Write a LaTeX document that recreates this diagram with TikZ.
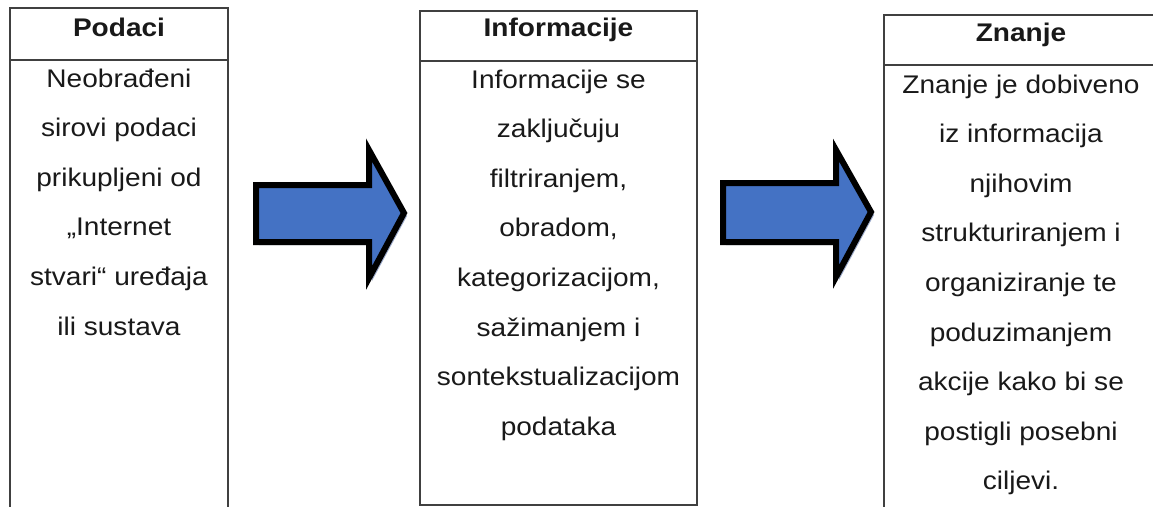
\documentclass[tikz,border=0pt]{standalone}
\usepackage{fontspec}
\setmainfont[FakeStretch=1.1]{Liberation Sans}
\definecolor{arrowblue}{HTML}{4472C4}
\definecolor{shadowgray}{HTML}{9AA8C8}
\definecolor{framegray}{HTML}{404040}
\begin{document}
\begin{tikzpicture}[x=1pt,y=-1pt,
  boxframe/.style={draw=framegray, line width=1.6pt},
  headline/.style={draw=framegray, line width=1.4pt},
  titletext/.style={font=\fontsize{25.5}{30}\selectfont\bfseries, anchor=base, inner sep=0pt, text=black!90},
  bodytext/.style={font=\fontsize{25.5}{49.6}\selectfont, align=center, anchor=north, inner sep=0pt, text=black!90},
  bluearrow/.style={fill=arrowblue, draw=black, line width=6pt, line join=miter},
  arrowshadow/.style={fill=shadowgray}]
\useasboundingbox (0,0) rectangle (1153,506);
\fill[white] (0,0) rectangle (1153,506);

% box 1
\draw[boxframe] (10,515) -- (10,8) -- (228,8) -- (228,515);
\draw[headline] (10,60) -- (228,60);
\node[titletext] (t1) at (119,36) {Podaci};
\node[bodytext] (b1) at (119,68.4) {Neobrađeni\\sirovi podaci\\prikupljeni od\\„Internet\\stvari“ uređaja\\ili sustava};

% box 2
\draw[boxframe] (420,11) rectangle (697,505);
\draw[headline] (420,61) -- (697,61);
\node[titletext] (t2) at (558.5,36) {Informacije};
\node[bodytext] (b2) at (558.5,69.4) {Informacije se\\zaključuju\\filtriranjem,\\obradom,\\kategorizacijom,\\sažimanjem i\\sontekstualizacijom\\podataka};

% box 3
\draw[boxframe] (1160,15) -- (884,15) -- (884,515);
\draw[headline] (884,65) -- (1160,65);
\node[titletext] (t3) at (1021,41.5) {Znanje};
\node[bodytext] (b3) at (1021,74.4) {Znanje je dobiveno\\iz informacija\\njihovim\\strukturiranjem i\\organiziranje te\\poduzimanjem\\akcije kako bi se\\postigli posebni\\ciljevi.};

% arrow 1
\coordinate (a1) at (256,185);
\fill[arrowshadow] ([shift={(3,3)}]a1) -- ++(113,0) -- ++(0,-35) -- ++(35,63) -- ++(-35,65) -- ++(0,-36) -- ++(-113,0) -- cycle;
\draw[bluearrow] (a1) -- ++(113,0) -- ++(0,-35) -- ++(35,63) -- ++(-35,65) -- ++(0,-36) -- ++(-113,0) -- cycle;

% arrow 2
\coordinate (a2) at (723,183);
\fill[arrowshadow] ([shift={(3,3)}]a2) -- ++(113,0) -- ++(0,-33) -- ++(35,62) -- ++(-35,65) -- ++(0,-35) -- ++(-113,0) -- cycle;
\draw[bluearrow] (a2) -- ++(113,0) -- ++(0,-33) -- ++(35,62) -- ++(-35,65) -- ++(0,-35) -- ++(-113,0) -- cycle;
\end{tikzpicture}
\end{document}
